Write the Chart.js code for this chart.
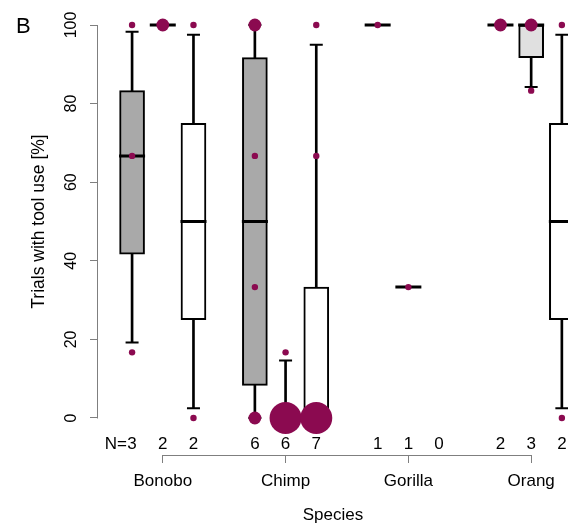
<!DOCTYPE html>
<html>
<head>
<meta charset="utf-8">
<script src="https://cdn.jsdelivr.net/npm/chart.js@4/dist/chart.umd.min.js"></script>
<style>
  html, body { margin: 0; padding: 0; background: #fff; }
  #wrap { width: 568px; height: 531px; position: relative; }
</style>
</head>
<body>
<div id="wrap"><canvas id="c"></canvas></div>
<script>
// Species groups and where their labels sit on the x axis
const species = ['Bonobo', 'Chimp', 'Gorilla', 'Orang'];
const speciesPos = [2, 6, 10, 14];

// One box per slot (three per species)
const slotPos = [1, 2, 3, 5, 6, 7, 9, 10, 11, 13, 14, 15];
const slotGroup = [0, 1, 2, 0, 1, 2, 0, 1, 2, 0, 1, 2];
const nLabels = [3, 2, 2, 6, 6, 7, 1, 1, 0, 2, 3, 2];

// Box statistics (% of trials with tool use)
const whiskerLow  = [19.2, 100, 2.5, 0,    0,    0,    100, 33.3, null, 100, 84.2, 2.5];
const q1          = [41.7, 100, 25,  8.3,  0,    0,    100, 33.3, null, 100, 91.7, 25];
const median      = [66.7, 100, 50,  50,   0,    0,    100, 33.3, null, 100, 100,  50];
const q3          = [83.3, 100, 75,  91.7, 0,    33.3, 100, 33.3, null, 100, 100,  75];
const whiskerHigh = [98.3, 100, 97.5, 100, 14.6, 95,   100, 33.3, null, 100, 100,  97.5];

// Individual observations; count = how many individuals share the value
const dotPos   = [1, 1, 1, 2, 3, 3, 5, 5, 5, 5, 6, 6, 7, 7, 7, 9, 10, 13, 14, 14, 15, 15];
const dotValue = [16.7, 66.7, 100, 100, 0, 100, 0, 33.3, 66.7, 100, 0, 16.7, 0, 66.7, 100, 100, 33.3, 100, 83.3, 100, 0, 100];
const dotCount = [1, 1, 1, 2, 1, 1, 2, 1, 1, 2, 5, 1, 5, 1, 1, 1, 1, 2, 1, 2, 1, 1];

const yTicks = [0, 20, 40, 60, 80, 100];

const boxFills = ['#a9a9a9', '#e0e0e0', '#ffffff'];
const dotColor = '#8b0a50';
const axisGrey = '#7f7f7f';
const FONT = "'Liberation Sans', Arial, sans-serif";
const FS = 17;

Chart.defaults.font.family = FONT;
Chart.defaults.font.size = FS;
Chart.defaults.color = '#000';

const valid = i => q1[i] !== null;

const boxData = slotPos.map((x, i) => ({ x, y: [q1[i], q3[i]], g: slotGroup[i] })).filter((d, i) => valid(i));
const whiskerData = slotPos.flatMap((x, i) => valid(i)
  ? [{ x, y: [whiskerLow[i], q1[i]] }, { x, y: [q3[i], whiskerHigh[i]] }] : []);
const capData = slotPos.flatMap((x, i) => valid(i)
  ? [{ x, y: whiskerLow[i] }, { x, y: whiskerHigh[i] }] : []);
const medianData = slotPos.map((x, i) => ({ x, y: median[i] })).filter((d, i) => valid(i));
const dotData = dotPos.map((x, i) => ({ x, y: dotValue[i] }));

// R-style axis lines that only span the labelled range, plus panel letter and "N="
const decorations = {
  id: 'decorations',
  afterDraw(chart) {
    const { ctx, scales } = chart;
    const y = scales.y, xs = scales.xs, xn = scales.x;
    ctx.save();
    ctx.strokeStyle = axisGrey;
    ctx.lineWidth = 1;
    const ax = Math.round(y.right) - 0.5;
    ctx.beginPath();
    ctx.moveTo(ax, y.getPixelForValue(0) + 0.5);
    ctx.lineTo(ax, y.getPixelForValue(100));
    ctx.stroke();
    const ay = Math.round(xs.top) + 0.5;
    ctx.beginPath();
    ctx.moveTo(xs.getPixelForValue(speciesPos[0]), ay);
    ctx.lineTo(xs.getPixelForValue(speciesPos[speciesPos.length - 1]), ay);
    ctx.stroke();

    ctx.fillStyle = '#000';
    ctx.font = FS + 'px ' + FONT;
    ctx.textBaseline = 'middle';
    ctx.textAlign = 'right';
    const firstW = ctx.measureText(String(nLabels[0])).width;
    const ny = xn.top + xn.options.ticks.padding + FS * 1.2 / 2;
    ctx.fillText('N=', xn.getPixelForValue(slotPos[0]) - firstW / 2 - 0.5, ny);

    ctx.font = '22px ' + FONT;
    ctx.textAlign = 'left';
    ctx.textBaseline = 'alphabetic';
    ctx.fillText('B', 16, 33);
    ctx.restore();
  }
};

new Chart(document.getElementById('c'), {
  type: 'bar',
  data: {
    datasets: [
      {
        label: 'whiskers',
        data: whiskerData,
        backgroundColor: '#000',
        borderWidth: 0,
        barThickness: 2,
        grouped: false,
        order: 5
      },
      {
        label: 'caps',
        type: 'scatter',
        data: capData,
        pointStyle: 'line',
        pointRadius: 6.5,
        borderColor: '#000',
        borderWidth: 2,
        order: 4
      },
      {
        label: 'boxes',
        data: boxData,
        backgroundColor: ctx => boxFills[ctx.raw ? ctx.raw.g : 0],
        borderColor: '#000',
        borderWidth: 2,
        borderSkipped: false,
        barThickness: 25,
        grouped: false,
        order: 3
      },
      {
        label: 'medians',
        type: 'scatter',
        data: medianData,
        pointStyle: 'line',
        pointRadius: 13,
        borderColor: '#000',
        borderWidth: 3,
        order: 2
      },
      {
        label: 'observations',
        type: 'scatter',
        data: dotData,
        pointRadius: ctx => 3.2 * dotCount[ctx.dataIndex],
        pointBackgroundColor: dotColor,
        pointBorderWidth: 0,
        borderWidth: 0,
        clip: false,
        order: 1
      }
    ]
  },
  options: {
    responsive: true,
    maintainAspectRatio: false,
    animation: false,
    layout: { autoPadding: false, padding: { top: 9.3, left: 0, right: 0, bottom: 0 } },
    plugins: { legend: { display: false }, tooltip: { enabled: false } },
    scales: {
      x: {
        type: 'linear',
        position: 'bottom',
        weight: 1,
        offset: false,
        min: -0.11,
        max: 15.2,
        grid: { display: false, drawTicks: false, offset: false },
        border: { display: false },
        afterBuildTicks: s => { s.ticks = slotPos.map(v => ({ value: v })); },
        ticks: {
          autoSkip: false, maxRotation: 0, minRotation: 0, padding: 0,
          callback: (v, i) => String(nLabels[i])
        },
        afterFit: s => { s.height = 21.3; s.paddingLeft = 0; s.paddingRight = 0; }
      },
      xs: {
        type: 'linear',
        position: 'bottom',
        weight: 2,
        offset: false,
        min: -0.11,
        max: 15.2,
        grid: { drawOnChartArea: false, drawTicks: true, tickLength: 8, color: axisGrey, lineWidth: 1, offset: false },
        border: { display: false },
        afterBuildTicks: s => { s.ticks = speciesPos.map(v => ({ value: v })); },
        ticks: {
          autoSkip: false, maxRotation: 0, minRotation: 0, padding: 8,
          callback: (v, i) => species[i]
        },
        title: { display: true, text: 'Species', padding: { top: 0, bottom: 5.6 } },
        afterFit: s => { s.height = 76; s.paddingLeft = 0; s.paddingRight = 0; }
      },
      y: {
        type: 'linear',
        position: 'left',
        min: -4,
        max: 104,
        grid: { drawOnChartArea: false, drawTicks: true, tickLength: 8, color: axisGrey, lineWidth: 1 },
        border: { display: false },
        afterBuildTicks: s => { s.ticks = yTicks.map(v => ({ value: v })); },
        ticks: { minRotation: 90, maxRotation: 90, crossAlign: 'center', padding: 5, font: { size: 16 } },
        title: { display: true, text: 'Trials with tool use [%]', font: { size: 17.5 }, padding: { top: 29, bottom: 0 } },
        afterFit: s => { s.width = 98; s.paddingTop = 0; s.paddingBottom = 0; }
      }
    }
  },
  plugins: [decorations]
});
</script>
</body>
</html>
